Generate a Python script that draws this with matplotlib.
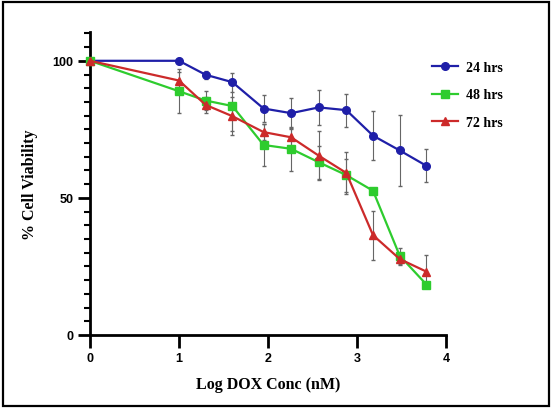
import matplotlib
matplotlib.use("Agg")
from matplotlib import pyplot as plt
from matplotlib.patches import Rectangle
from matplotlib.ticker import MultipleLocator

# log10 of DOX concentration (nM)
log_conc = [0, 1, 1.3, 1.6, 1.95, 2.26, 2.57, 2.88, 3.18, 3.48, 3.78]

via_24 = [100, 100, 94.9, 92.2, 82.6, 80.9, 83.0, 82.0, 72.7, 67.3, 61.7]
err_24 = [0, 1.0, 1.5, 3.5, 5.0, 5.5, 6.5, 6.0, 9.0, 13.0, 6.0]

via_48 = [100, 88.9, 85.5, 83.5, 69.3, 67.9, 63.0, 58.3, 52.6, 28.9, 18.4]
err_48 = [0, 8.0, 3.5, 9.0, 7.5, 8.0, 6.0, 6.0, 1.0, 3.0, 1.0]

via_72 = [100, 92.8, 83.9, 79.8, 74.0, 72.1, 65.4, 59.1, 36.4, 27.7, 23.1]
err_72 = [0, 3.0, 3.0, 7.0, 3.0, 3.0, 9.0, 7.5, 9.0, 2.0, 6.0]

labels = ["24 hrs", "48 hrs", "72 hrs"]

serif = ["Liberation Serif", "DejaVu Serif"]
sans = ["Liberation Sans", "DejaVu Sans"]

fig = plt.figure(figsize=(5.52, 4.10), dpi=100)
ax = fig.add_axes([0.163, 0.1805, 0.645, 0.739])

# outer frame around the whole picture
fig.patches.append(Rectangle((0.006, 0.008), 0.988, 0.984, transform=fig.transFigure,
                             fill=False, edgecolor="black", linewidth=1.6))

series = [
    (via_24, err_24, "#1f1fa8", "o", 5.5),
    (via_48, err_48, "#2ecc2e", "s", 6),
    (via_72, err_72, "#cc2a2a", "^", 6),
]
handles = []
for (vals, errs, col, mk, ms), lab in zip(series, labels):
    c = ax.errorbar(log_conc, vals, yerr=errs, color=col, marker=mk, markersize=ms,
                    linewidth=1.6, ecolor="#666666", elinewidth=0.8, capsize=1.5,
                    label=lab, clip_on=False, zorder=3)
    handles.append(c[0])

ax.set_xlim(0, 4)
ax.set_ylim(0, 110.5)
ax.set_xticks([0, 1, 2, 3, 4])
ax.set_yticks([0, 50, 100])
ax.yaxis.set_minor_locator(MultipleLocator(5))

for side in ["top", "right"]:
    ax.spines[side].set_visible(False)
for side in ["left", "bottom"]:
    ax.spines[side].set_linewidth(2)

ax.tick_params(axis="both", which="major", direction="out", length=9, width=2,
               labelsize=9, pad=3)
ax.tick_params(axis="y", which="minor", direction="out", length=4, width=1.5)
for lbl in ax.get_xticklabels() + ax.get_yticklabels():
    lbl.set_fontweight("bold")
    lbl.set_family(sans)

ax.set_xlabel("Log DOX Conc (nM)", fontsize=11.5, fontweight="bold", family=serif,
              labelpad=9)
ax.set_ylabel("% Cell Viability", fontsize=11.5, fontweight="bold", family=serif,
              labelpad=10)

ax.legend(handles, labels, loc="upper left", bbox_to_anchor=(0.925, 0.945),
          frameon=False, prop={"family": serif, "weight": "bold", "size": 10},
          handlelength=1.9, handletextpad=0.55, labelspacing=1.03)

fig.savefig("out.png", dpi=100)
